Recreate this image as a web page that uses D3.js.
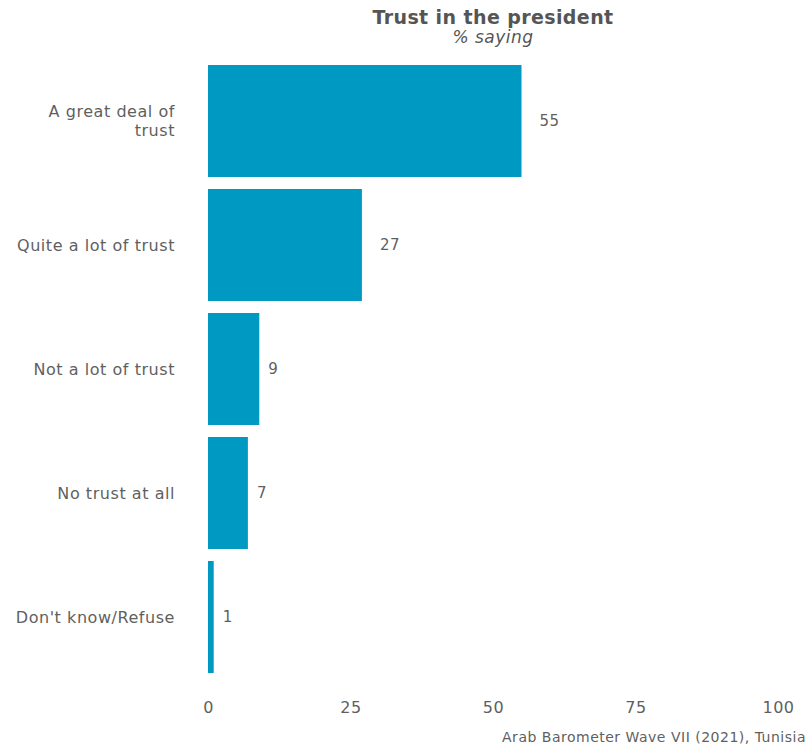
<!DOCTYPE html>
<html><head><meta charset="utf-8">
<script src="https://cdn.jsdelivr.net/npm/d3@7"></script>
<style>body{margin:0;background:#fff;} text{font-family:"DejaVu Sans",sans-serif;}</style>
</head><body>
<svg id="c" width="809" height="748"></svg>
<script>
const categories = ["A great deal of trust","Quite a lot of trust","Not a lot of trust","No trust at all","Don't know/Refuse"];
const values = [55, 27, 9, 7, 1];
const xTicks = [0, 25, 50, 75, 100];
const title = "Trust in the president";
const subtitle = "% saying";
const caption = "Arab Barometer Wave VII (2021), Tunisia";

const svg = d3.select("#c");
const x = d3.scaleLinear().domain([0, 100]).range([208, 778]);
const y = d3.scaleBand().domain(categories).range([59, 679]).paddingInner(12/124).paddingOuter(6/124);
const barColor = "#0099c1", txt = "#5f5f5f";
const F = "DejaVu Sans";

svg.selectAll("rect.bar").data(categories).join("rect")
  .attr("x", x(0)).attr("y", d => y(d))
  .attr("width", (d,i) => x(values[i]) - x(0)).attr("height", y.bandwidth())
  .attr("fill", barColor);

svg.selectAll("text.val").data(categories).join("text")
  .attr("x", (d,i) => x(values[i]) + (String(values[i]).length > 1 ? 18 : 9)).attr("y", d => y(d) + y.bandwidth()/2)
  .attr("dy", "0.35em").attr("font-size", 15).attr("letter-spacing", 0.5).attr("fill", txt)
  .text((d,i) => values[i]);

const wrap = {"A great deal of trust": ["A great deal of", "trust"]};
categories.forEach(c => {
  const lines = wrap[c] || [c];
  const t = svg.append("text").attr("text-anchor","end").attr("font-size",16).attr("letter-spacing",0.55).attr("fill",txt);
  const cy = y(c) + y.bandwidth()/2;
  const lh = 19;
  lines.forEach((l, k) => {
    t.append("tspan").attr("x", 175).attr("y", cy + (k - (lines.length-1)/2)*lh).attr("dy","0.35em").text(l);
  });
});

const xa = svg.append("g").attr("transform", "translate(0,707)")
  .call(d3.axisBottom(x).tickValues(xTicks).tickSize(0).tickPadding(0));
xa.select(".domain").remove();
xa.selectAll("text").attr("font-size",16).attr("letter-spacing",0.5).attr("fill",txt).attr("dy","0.35em").attr("font-family",F);

svg.append("text").attr("x", 493).attr("y", 24).attr("text-anchor","middle")
  .attr("font-size",19).attr("font-weight",700).attr("letter-spacing",0.4).attr("fill","#555").text(title);
svg.append("text").attr("x", 493).attr("y", 43).attr("text-anchor","middle")
  .attr("font-size",17).attr("font-style","italic").attr("letter-spacing",0.5).attr("fill","#555").text(subtitle);
svg.append("text").attr("x", 806).attr("y", 742).attr("text-anchor","end")
  .attr("font-size",14).attr("letter-spacing",0.5).attr("fill",txt).text(caption);
</script>
</body></html>
